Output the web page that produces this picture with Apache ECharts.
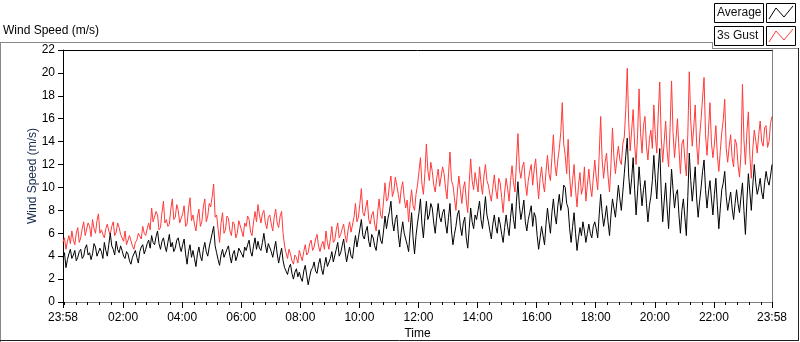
<!DOCTYPE html>
<html>
<head>
<meta charset="utf-8">
<script src="https://cdn.jsdelivr.net/npm/echarts@6/dist/echarts.min.js"></script>
<style>
html,body{margin:0;padding:0;background:#fff;}
#chart{width:800px;height:342px;}
</style>
</head>
<body>
<div id="chart"></div>
<script>
// time axis: minutes from 00:00; samples start at 23:58 (-2) every 3 minutes
const startMinute = -2;
const stepMinutes = 3;
const endMinute = 1438;
const majorTickMinutes = [-2, 120, 240, 360, 480, 600, 720, 840, 960, 1080, 1200, 1320, 1438];
const yTicks = [0, 2, 4, 6, 8, 10, 12, 14, 16, 18, 20, 22];

const gust = [
  5.2, 5.6, 4.6, 5.3, 5.8, 5.1, 6.2, 5.4, 5.0, 6.0, 6.5, 5.2, 5.6, 6.4, 7.0, 5.8, 5.9, 6.9, 6.6, 5.7,
  7.2, 6.4, 6.0, 7.1, 7.7, 6.0, 6.3, 5.9, 5.6, 6.4, 6.8, 6.2, 5.9, 6.6, 7.0, 5.8, 6.1, 6.9, 6.5, 5.9,
  5.6, 5.3, 6.2, 5.0, 5.1, 5.8, 5.7, 4.9, 4.6, 5.2, 5.4, 6.0, 5.9, 5.5, 6.6, 6.0, 5.8, 6.4, 6.9, 6.3,
  8.2, 7.0, 6.9, 7.9, 7.6, 6.3, 6.5, 7.8, 8.8, 6.9, 7.2, 6.6, 6.8, 8.1, 9.0, 7.2, 7.4, 8.5, 8.0, 6.9,
  7.0, 7.7, 8.4, 6.6, 6.8, 8.2, 9.1, 7.1, 7.6, 6.8, 6.2, 7.4, 8.1, 6.6, 7.0, 8.3, 9.0, 7.0, 7.5, 8.6,
  8.3, 9.2, 10.3, 7.4, 7.6, 6.4, 5.2, 6.9, 7.8, 6.0, 6.3, 7.5, 7.3, 6.2, 5.8, 7.0, 6.8, 5.6, 6.0, 7.1,
  7.0, 6.2, 5.7, 6.9, 6.6, 7.5, 7.2, 6.1, 5.8, 7.0, 7.9, 7.0, 8.5, 7.6, 6.9, 7.7, 8.0, 6.9, 6.4, 7.4,
  7.6, 6.8, 6.2, 7.4, 8.1, 6.9, 6.5, 7.5, 7.9, 6.0, 4.9, 4.3, 3.8, 4.6, 4.2, 3.6, 3.3, 4.1, 3.9, 3.4,
  4.5, 4.0, 3.6, 4.4, 5.0, 4.1, 4.3, 5.1, 5.4, 4.5, 4.8, 5.5, 5.9, 4.9, 4.4, 5.0, 5.3, 4.6, 6.2, 5.2,
  4.6, 5.5, 6.6, 5.2, 5.4, 6.3, 6.9, 5.6, 5.9, 6.4, 6.8, 5.8, 5.2, 6.3, 7.0, 6.1, 6.0, 7.4, 8.6, 7.0,
  7.4, 8.6, 9.9, 7.8, 7.5, 8.3, 8.9, 7.2, 6.8, 7.6, 7.9, 6.8, 6.2, 7.8, 9.0, 7.6, 7.3, 8.8, 10.4, 8.8,
  9.0, 10.2, 11.0, 9.2, 9.7, 10.9, 10.8, 9.4, 8.6, 9.9, 10.5, 9.1, 8.2, 8.9, 7.0, 8.6, 9.8, 8.4, 8.0, 9.4,
  10.2, 11.4, 12.6, 10.3, 9.4, 11.2, 13.8, 11.5, 10.6, 12.2, 11.4, 10.2, 9.6, 10.8, 11.6, 10.1, 10.0, 11.8, 11.2, 9.9,
  9.0, 11.2, 13.1, 10.6, 10.2, 9.1, 8.0, 9.6, 11.0, 9.8, 8.6, 9.9, 10.5, 8.9, 7.8, 10.4, 12.5, 10.6, 9.8, 11.3,
  10.4, 9.6, 11.8, 10.4, 9.4, 11.0, 12.0, 10.6, 10.2, 9.4, 8.8, 10.0, 11.1, 9.8, 9.0, 10.8, 10.4, 9.1, 7.8, 9.6,
  10.8, 9.9, 8.8, 10.6, 11.9, 10.4, 9.6, 12.3, 14.7, 11.6, 10.8, 11.8, 12.2, 10.4, 9.3, 10.6, 11.4, 12.0, 10.2, 11.6,
  12.5, 10.6, 9.0, 10.8, 11.8, 10.4, 9.6, 11.4, 12.8, 11.2, 10.6, 12.6, 14.6, 12.0, 11.0, 12.4, 13.4, 14.8, 17.4, 13.8,
  12.8, 11.2, 14.2, 11.0, 9.2, 10.6, 12.0, 9.8, 8.3, 10.2, 11.3, 9.4, 10.0, 11.8, 8.8, 10.2, 11.6, 10.1, 9.2, 10.8,
  12.4, 10.9, 9.8, 12.8, 16.2, 12.4, 10.8, 12.2, 13.0, 11.0, 9.6, 12.0, 15.2, 12.6, 11.2, 12.6, 13.6, 12.4, 12.0, 13.8,
  14.4, 16.8, 20.4, 15.6, 13.2, 15.0, 16.8, 13.8, 12.0, 14.6, 18.6, 14.8, 13.0, 15.4, 16.2, 13.6, 12.4, 14.2, 15.0, 13.4,
  17.2, 14.6, 13.0, 16.4, 19.2, 14.4, 12.2, 14.0, 15.8, 13.2, 11.8, 15.2, 19.3, 14.8, 12.6, 14.2, 16.0, 13.4, 11.2, 13.8,
  14.2, 12.4, 11.0, 14.6, 20.1, 15.8, 13.6, 15.2, 17.2, 13.8, 12.0, 14.4, 16.0, 17.8, 19.6, 14.6, 12.8, 15.0, 17.4, 13.9,
  12.6, 13.8, 15.4, 12.8, 11.4, 13.2, 14.8, 15.9, 17.7, 13.4, 12.2, 13.6, 14.6, 12.6, 11.8, 14.2, 13.8, 12.0, 10.9, 13.0,
  19.0, 14.2, 12.0, 14.8, 16.6, 12.8, 10.8, 13.4, 15.0, 14.1, 13.0, 14.6, 15.8, 14.0, 13.6, 15.2, 15.4, 13.5, 14.0, 15.6,
  16.2
];

const average = [
  3.9, 4.3, 3.0, 3.7, 4.2, 4.6, 3.8, 4.1, 4.5, 3.6, 3.9, 4.4, 4.6, 3.8, 4.0, 4.7, 5.0, 4.1, 4.3, 3.7,
  4.2, 5.1, 4.8, 4.0, 3.9, 4.7, 4.4, 3.8, 5.2, 4.5, 4.0, 5.0, 6.0, 4.9, 4.6, 4.1, 5.3, 4.6, 4.3, 4.9,
  4.5, 4.0, 3.8, 4.4, 4.2, 3.6, 3.3, 3.9, 4.0, 4.5, 3.9, 3.4, 4.4, 4.8, 5.0, 4.2, 4.6, 5.1, 5.4, 4.7,
  5.8, 5.2, 5.0, 5.7, 6.2, 5.1, 4.6, 5.3, 5.6, 4.9, 4.4, 5.2, 5.9, 4.8, 5.2, 4.4, 4.7, 5.4, 5.6, 4.9,
  4.4, 5.0, 5.5, 4.2, 3.3, 4.4, 5.0, 3.9, 4.5, 3.8, 3.1, 4.2, 4.8, 4.0, 3.6, 4.6, 5.2, 4.4, 4.0, 4.8,
  5.4, 6.0, 6.6, 4.9, 4.3, 3.7, 3.2, 4.1, 4.6, 3.9, 3.8, 4.6, 4.9, 4.0, 3.4, 4.2, 4.5, 3.6, 4.0, 4.7,
  4.8, 4.2, 3.9, 4.8, 4.5, 5.0, 5.4, 4.4, 4.0, 4.9, 5.6, 4.6, 5.3, 4.7, 4.5, 5.2, 6.0, 5.0, 4.3, 5.1,
  5.0, 4.4, 3.9, 4.6, 5.3, 4.2, 3.4, 4.1, 4.7, 3.6, 3.0, 2.7, 2.4, 3.0, 3.3, 2.5, 2.0, 2.6, 2.9, 2.2,
  2.6, 2.1, 1.8, 2.7, 3.2, 2.3, 1.5, 2.2, 2.8, 3.0, 3.5, 2.7, 2.5, 3.3, 3.8, 2.9, 2.4, 3.2, 3.9, 3.1,
  3.1, 3.8, 4.4, 3.5, 3.6, 4.6, 5.2, 4.0, 4.3, 4.9, 5.5, 4.4, 3.5, 4.2, 4.8, 4.0, 3.8, 4.9, 5.8, 4.8,
  5.6, 6.4, 7.2, 5.8, 5.5, 6.2, 6.6, 5.3, 4.8, 5.9, 5.6, 4.9, 4.5, 5.6, 6.3, 5.4, 5.1, 6.2, 7.5, 6.4,
  7.3, 7.9, 8.8, 7.0, 6.2, 7.2, 7.6, 5.9, 4.8, 6.1, 7.0, 6.0, 5.5, 5.0, 4.4, 6.2, 7.8, 5.6, 4.2, 5.8,
  6.9, 7.8, 9.0, 6.8, 5.6, 7.4, 8.8, 7.2, 7.6, 8.6, 8.2, 6.9, 6.0, 7.4, 8.6, 7.4, 7.0, 7.8, 8.1, 6.8,
  6.0, 7.4, 8.6, 6.2, 5.0, 5.9, 6.6, 7.6, 8.0, 6.6, 5.8, 6.9, 7.4, 5.6, 4.7, 6.4, 8.2, 7.0, 6.4, 7.6,
  7.2, 8.0, 8.8, 7.2, 6.4, 7.8, 9.2, 7.6, 7.0, 6.2, 5.5, 6.8, 7.6, 6.6, 6.0, 7.4, 6.8, 5.9, 5.2, 6.5,
  7.6, 6.6, 5.8, 7.4, 8.6, 7.2, 6.4, 8.8, 10.5, 8.4, 7.2, 8.0, 8.9, 7.0, 6.2, 7.2, 7.8, 8.4, 6.6, 7.8,
  7.4, 5.8, 4.6, 5.6, 6.6, 5.8, 5.0, 6.8, 8.2, 7.0, 6.0, 7.8, 9.0, 7.6, 6.8, 8.4, 9.4, 8.0, 8.7, 10.2,
  10.0, 8.6, 8.2, 6.4, 5.2, 6.6, 7.8, 6.0, 4.5, 5.6, 6.5, 5.8, 7.0, 6.2, 5.2, 6.0, 6.8, 6.0, 5.6, 6.6,
  7.0, 6.4, 5.6, 7.6, 9.4, 7.8, 6.6, 7.4, 8.4, 7.0, 5.8, 7.6, 9.0, 8.2, 7.4, 8.8, 10.2, 9.0, 8.0, 9.6,
  11.2, 12.8, 14.3, 11.0, 9.4, 10.8, 12.6, 9.8, 7.6, 9.6, 11.8, 10.0, 8.4, 9.8, 10.6, 8.6, 7.0, 8.4, 9.2, 10.6,
  12.8, 10.8, 9.0, 11.6, 13.4, 9.6, 7.0, 8.8, 10.4, 8.2, 6.4, 9.0, 11.6, 9.8, 8.2, 9.4, 9.8, 7.6, 6.0, 8.0,
  9.0, 7.4, 5.8, 9.2, 13.0, 10.6, 8.8, 10.2, 11.8, 9.0, 7.4, 8.8, 10.0, 11.4, 12.4, 9.8, 8.2, 9.6, 10.6, 9.0,
  7.6, 9.4, 10.8, 8.4, 6.4, 8.2, 9.8, 10.4, 11.4, 9.2, 8.0, 8.8, 9.6, 8.2, 7.2, 8.6, 9.8, 8.6, 7.8, 9.2,
  10.4, 8.0, 5.9, 8.8, 11.2, 9.6, 8.0, 10.2, 12.0, 10.4, 9.4, 10.0, 10.8, 9.6, 9.0, 10.4, 11.4, 10.6, 10.2, 11.0,
  12.0
];

function pairs(values) {
  return values.map((v, i) => [startMinute + i * stepMinutes, v]);
}
function fmtTime(m) {
  let mm = ((m % 1440) + 1440) % 1440;
  const h = Math.floor(mm / 60), mi = mm % 60;
  return String(h).padStart(2, '0') + ':' + String(mi).padStart(2, '0');
}
const minorTickMinutes = [];
for (let m = 0; m < endMinute; m += 24) minorTickMinutes.push(m);

const chart = echarts.init(document.getElementById('chart'), null, {renderer: 'canvas'});
const FONT = 'Liberation Sans';

const option = {
  animation: false,
  backgroundColor: '#fff',
  grid: {left: 63, right: 28, top: 50, bottom: 40, containLabel: false, outerBoundsMode: 'none'},
  xAxis: [
    {
      type: 'value', min: startMinute, max: endMinute, position: 'bottom',
      name: 'Time', nameLocation: 'middle', nameGap: 26, nameMoveOverlap: false,
      nameTextStyle: {fontFamily: FONT, fontSize: 12, color: '#000'},
      axisLine: {show: true, onZero: false, lineStyle: {color: '#808080', width: 1}},
      axisTick: {show: true, length: 6, inside: false, customValues: majorTickMinutes, lineStyle: {color: '#000'}},
      axisLabel: {show: true, customValues: majorTickMinutes, formatter: v => fmtTime(v), fontFamily: FONT, fontSize: 12, color: '#000', margin: 10, showMinLabel: true, showMaxLabel: true, hideOverlap: false},
      splitLine: {show: false}
    },
    {
      type: 'value', min: startMinute, max: endMinute, position: 'top',
      axisLine: {show: true, onZero: false, lineStyle: {color: '#000', width: 1}},
      axisTick: {show: false}, axisLabel: {show: false}, splitLine: {show: false}
    },
    {
      type: 'value', min: startMinute, max: endMinute, position: 'bottom',
      axisLine: {show: false, onZero: false},
      axisTick: {show: true, length: 3, customValues: minorTickMinutes, lineStyle: {color: '#000'}},
      axisLabel: {show: false}, splitLine: {show: false}
    }
  ],
  yAxis: [
    {
      type: 'value', min: 0, max: 22, interval: 2, position: 'left',
      name: 'Wind Speed (m/s)', nameLocation: 'middle', nameGap: 24, nameRotate: 90, nameMoveOverlap: false,
      nameTextStyle: {fontFamily: FONT, fontSize: 12, color: '#14284b'},
      axisLine: {show: true, onZero: false, lineStyle: {color: '#000', width: 1}},
      axisTick: {show: true, length: 5, lineStyle: {color: '#000'}},
      axisLabel: {fontFamily: FONT, fontSize: 12, color: '#000', margin: 8},
      splitLine: {show: false}
    },
    {
      type: 'value', min: 0, max: 22, position: 'right',
      axisLine: {show: true, onZero: false, lineStyle: {color: '#808080', width: 1}},
      axisTick: {show: false}, axisLabel: {show: false}, splitLine: {show: false}
    }
  ],
  series: [
    {
      name: '3s Gust', type: 'line', xAxisIndex: 0, yAxisIndex: 0,
      data: pairs(gust), showSymbol: false, symbol: 'none',
      lineStyle: {color: '#ff3b3b', width: 1}, itemStyle: {color: '#ff3b3b'}
    },
    {
      name: 'Average', type: 'line', xAxisIndex: 0, yAxisIndex: 0,
      data: pairs(average), showSymbol: false, symbol: 'none',
      lineStyle: {color: '#000', width: 1}, itemStyle: {color: '#000'}
    }
  ],
  graphic: [
    {type: 'text', left: 3, top: 25, style: {text: 'Wind Speed (m/s)', font: '12px "Liberation Sans"', fill: '#000'}},
    {type: 'line', shape: {x1: 0, y1: 42.5, x2: 712, y2: 42.5}, style: {stroke: '#888', lineWidth: 1}},
    {type: 'line', shape: {x1: 712.5, y1: 42, x2: 712.5, y2: 48}, style: {stroke: '#888', lineWidth: 1}},
    {type: 'line', shape: {x1: 712, y1: 48.5, x2: 799, y2: 48.5}, style: {stroke: '#888', lineWidth: 1}},
    {type: 'line', shape: {x1: 0.5, y1: 42, x2: 0.5, y2: 342}, style: {stroke: '#888', lineWidth: 1}},
    {type: 'line', shape: {x1: 798.5, y1: 48, x2: 798.5, y2: 341}, style: {stroke: '#222', lineWidth: 1}},
    {type: 'line', shape: {x1: 0, y1: 340.5, x2: 799, y2: 340.5}, style: {stroke: '#222', lineWidth: 1}},
    {type: 'rect', shape: {x: 714.5, y: 3.5, width: 49, height: 19}, style: {fill: '#fff', stroke: '#000', lineWidth: 1}},
    {type: 'text', x: 717, y: 13, style: {text: 'Average', font: '12px "Liberation Sans"', fill: '#111', verticalAlign: 'middle'}},
    {type: 'rect', shape: {x: 766.5, y: 3.5, width: 29, height: 19}, style: {fill: '#fff', stroke: '#000', lineWidth: 1}},
    {type: 'polyline', shape: {points: [[769, 19], [776, 8], [784, 17], [793, 6]]}, style: {stroke: '#000', lineWidth: 1, fill: null}},
    {type: 'rect', shape: {x: 714.5, y: 26.5, width: 49, height: 19}, style: {fill: '#fff', stroke: '#000', lineWidth: 1}},
    {type: 'text', x: 717, y: 36, style: {text: '3s Gust', font: '12px "Liberation Sans"', fill: '#111', verticalAlign: 'middle'}},
    {type: 'rect', shape: {x: 766.5, y: 26.5, width: 29, height: 19}, style: {fill: '#fff', stroke: '#000', lineWidth: 1}},
    {type: 'polyline', shape: {points: [[769, 42], [776, 31], [784, 40], [793, 29]]}, style: {stroke: '#ff3b3b', lineWidth: 1, fill: null}}
  ]
};
chart.setOption(option);
</script>
</body>
</html>
